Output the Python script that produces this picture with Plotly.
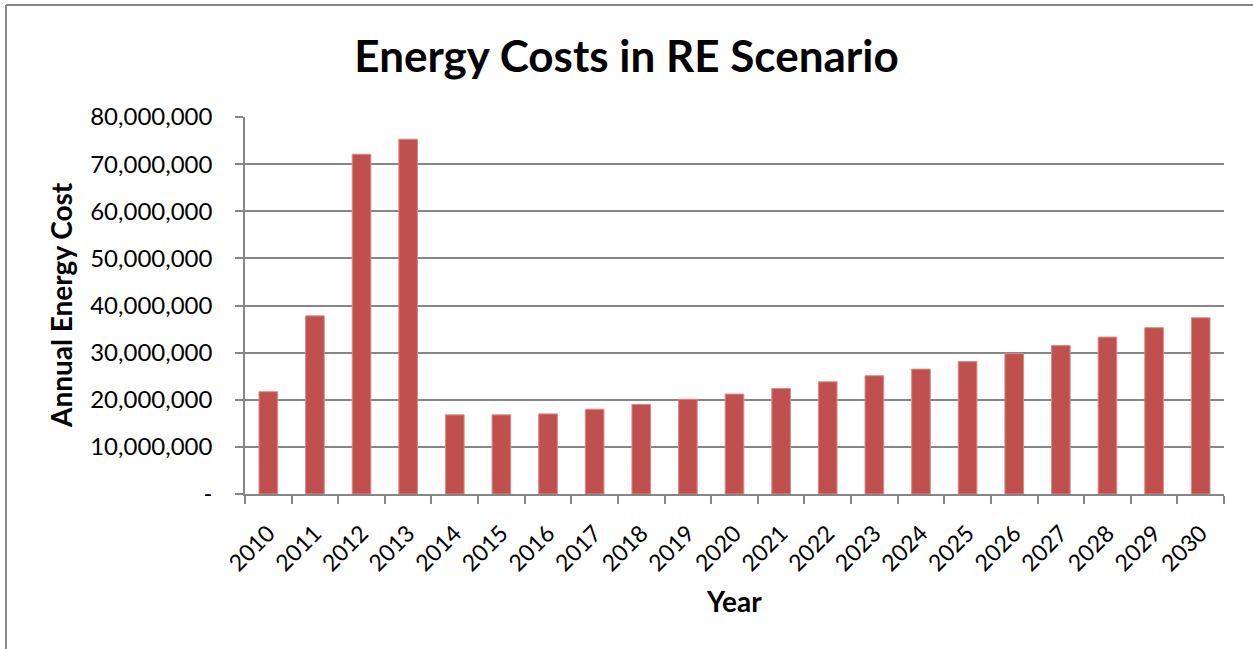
import plotly.graph_objects as go

years = [str(y) for y in range(2010, 2031)]
energy_cost = [21.7e6, 37.8e6, 72.1e6, 75.3e6, 16.8e6, 16.8e6, 17.0e6, 18.0e6, 19.0e6,
               20.1e6, 21.2e6, 22.4e6, 23.8e6, 25.1e6, 26.5e6, 28.1e6, 29.8e6, 31.5e6,
               33.3e6, 35.3e6, 37.4e6]
y_ticks = [0, 10e6, 20e6, 30e6, 40e6, 50e6, 60e6, 70e6, 80e6]
y_tick_labels = ["-", "10,000,000", "20,000,000", "30,000,000", "40,000,000",
                 "50,000,000", "60,000,000", "70,000,000", "80,000,000"]

W, H = 1253, 649
L, R, T, B = 245, 29, 117, 155
pw, ph = W - L - R, H - T - B

fig = go.Figure()
fig.add_trace(go.Bar(
    x=years, y=energy_cost,
    marker=dict(color="#C0504D", line=dict(color="#D98C8A", width=1)),
))

grey = "#868686"
fig.update_layout(
    width=W, height=H,
    margin=dict(l=L, r=R, t=T, b=B),
    paper_bgcolor="white", plot_bgcolor="white",
    font=dict(family="Lato, Carlito, sans-serif", color="black"),
    showlegend=False,
    bargap=0.6,
    title=dict(text="<b>Energy Costs in RE Scenario</b>", x=0.5, xanchor="center",
               xref="container", y=1 - 57 / H, yanchor="middle",
               font=dict(size=44, family="Lato, sans-serif")),
    xaxis=dict(
        type="category", tickangle=-45, tickfont=dict(size=23),
        showline=True, linecolor=grey, linewidth=1.5,
        ticks="outside", ticklen=8, tickcolor=grey, tickwidth=1.5,
        tickson="boundaries", showgrid=False, ticklabelstandoff=15,
    ),
    yaxis=dict(
        range=[0, 80e6], tickvals=y_ticks, ticktext=y_tick_labels,
        tickfont=dict(size=24),
        showline=True, linecolor=grey, linewidth=1.5,
        ticks="outside", ticklen=8, tickcolor=grey, tickwidth=1.5,
        showgrid=True, gridcolor=grey, gridwidth=1.5, zeroline=False,
        ticklabelstandoff=18,
    ),
)

# axis titles placed where the reference has them
fig.add_annotation(text="<b>Annual Energy Cost</b>", textangle=-90, showarrow=False,
                   xref="paper", yref="paper", x=(61 - L) / pw, y=(H - B - 305) / ph,
                   xanchor="center", yanchor="middle", font=dict(size=28))
fig.add_annotation(text="<b>Year</b>", showarrow=False,
                   xref="paper", yref="paper", x=(734 - L) / pw, y=(H - B - 601) / ph,
                   xanchor="center", yanchor="middle", font=dict(size=28))

# chart frame (left and top edges)
fx0 = (6 - L) / pw
fy1 = (H - B - 5) / ph
fx1 = (W - L) / pw
fig.add_shape(type="line", xref="paper", yref="paper", x0=fx0, x1=fx0, y0=-1, y1=fy1,
              line=dict(color=grey, width=2))
fig.add_shape(type="line", xref="paper", yref="paper", x0=fx0, x1=fx1, y0=fy1, y1=fy1,
              line=dict(color=grey, width=2))

fig.write_html("out.html", config={"displayModeBar": False},
               post_script="document.body.style.margin='0';")
